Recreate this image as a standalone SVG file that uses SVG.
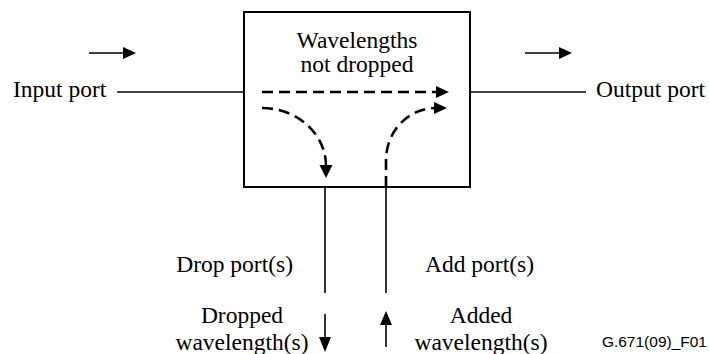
<svg xmlns="http://www.w3.org/2000/svg" width="709" height="354" viewBox="0 0 709 354">
<style>
.t{font-family:'Liberation Serif','Times New Roman',Times,serif;font-size:23.5px;fill:#000}
.s{font-family:'Liberation Sans',Arial,sans-serif;font-size:15.5px;fill:#000}
.ln{stroke:#000;stroke-width:1.6;fill:none}
.dash{stroke:#000;stroke-width:2.6;fill:none;stroke-dasharray:11 6}
.ah{fill:#000;stroke:none}
</style>
<rect width="709" height="354" fill="#fff"/>
<g id="node-box">
<rect x="244" y="12" width="226" height="175" fill="#fff" stroke="#000" stroke-width="2"/>
<text class="t" x="357" y="48" text-anchor="middle" font-family="Liberation Serif, serif">Wavelengths</text>
<text class="t" x="357" y="72" text-anchor="middle">not dropped</text>
</g>
<g id="node-input"><text class="t" x="13" y="97">Input port</text></g>
<g id="node-output"><text class="t" x="596" y="97">Output port</text></g>
<g id="node-drop"><text class="t" x="293" y="272" text-anchor="end">Drop port(s)</text>
<text class="t" x="242" y="323" text-anchor="middle">Dropped</text>
<text class="t" x="242" y="350" text-anchor="middle">wavelength(s)</text></g>
<g id="node-add"><text class="t" x="425" y="272">Add port(s)</text>
<text class="t" x="481" y="323" text-anchor="middle">Added</text>
<text class="t" x="481" y="350" text-anchor="middle">wavelength(s)</text></g>
<g id="label-fig"><text class="s" x="707" y="347" text-anchor="end">G.671(09)_F01</text></g>
<g id="connectors">
<line class="ln" x1="117" y1="92" x2="244" y2="92"/>
<line class="ln" x1="470" y1="92" x2="586" y2="92"/>
<line class="ln" x1="325" y1="187" x2="325" y2="293"/>
<line class="ln" x1="386" y1="187" x2="386" y2="293"/>
<line class="ln" x1="89" y1="53" x2="124" y2="53"/>
<polygon class="ah" points="123,47 136,53 123,59"/>
<line class="ln" x1="525" y1="53" x2="560" y2="53"/>
<polygon class="ah" points="559,47 572,53 559,59"/>
<line class="ln" x1="325" y1="314" x2="325" y2="339"/>
<polygon class="ah" points="319,337 325,352 331,337"/>
<line class="ln" x1="386" y1="323" x2="386" y2="347"/>
<polygon class="ah" points="380,325 386,311 392,325"/>
<path class="dash" d="M262,92 L437,92"/>
<polygon class="ah" points="436,86 449,92 436,98"/>
<path class="dash" d="M262,108 A64,58 0 0 1 326,166"/>
<polygon class="ah" points="319.5,165 326,178 332.5,165"/>
<path class="dash" d="M386,187 L386,160 A50,52 0 0 1 436,108"/>
<polygon class="ah" points="434,102 447,108 434,114"/>
</g>
</svg>
